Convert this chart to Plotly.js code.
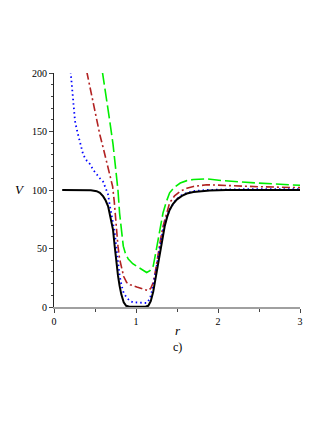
<!DOCTYPE html>
<html>
<head>
<meta charset="utf-8">
<script src="https://cdn.plot.ly/plotly-3.0.1.min.js"></script>
<style>
html,body{margin:0;padding:0;background:#fff;}
#chart{width:327px;height:423px;}
</style>
</head>
<body>
<div id="chart"></div>
<script>
// Black solid curve
const rBlack = [0.1, 0.3, 0.45, 0.52, 0.56, 0.60, 0.63, 0.66, 0.69, 0.72, 0.74, 0.76, 0.78, 0.80, 0.82, 0.85, 0.88, 0.92, 1.0, 1.08, 1.12, 1.15, 1.18, 1.21, 1.23, 1.26, 1.29, 1.32, 1.35, 1.38, 1.41, 1.45, 1.50, 1.56, 1.62, 1.70, 1.78, 1.9, 2.1, 2.5, 3.0];
const vBlack = [100, 100, 99.8, 99, 97.6, 94.5, 91, 86, 77, 66, 52, 38, 27, 18, 11, 4, 1, 0.2, 0, 0.2, 0.5, 1, 5, 13, 21, 33, 46.5, 58, 69, 77, 83, 88, 92, 95, 97, 98.3, 99, 99.6, 100, 100, 100];

// Blue dotted curve
const rBlue = [0.203, 0.22, 0.236, 0.256, 0.28, 0.30, 0.33, 0.357, 0.40, 0.44, 0.48, 0.52, 0.56, 0.60, 0.63, 0.66, 0.68, 0.71, 0.74, 0.76, 0.78, 0.80, 0.825, 0.85, 0.886, 0.93, 0.97, 1.05, 1.13, 1.17, 1.21, 1.24, 1.27, 1.30, 1.33, 1.37, 1.41, 1.47, 1.54, 1.62, 1.70, 1.86, 2.2, 2.6, 3.0];
const vBlue = [201, 185, 173, 159, 151, 145, 137, 130, 125, 122, 117, 113, 110, 107, 102, 96, 87, 76, 64, 51, 38, 27, 18, 12, 8, 5, 4, 3.5, 3.4, 7, 18, 30, 44, 55, 66, 76, 83, 90, 95, 97.5, 99, 100, 100.6, 100.7, 100.8];

// Red dash-dot curve
const rRed = [0.40, 0.44, 0.48, 0.52, 0.56, 0.60, 0.64, 0.68, 0.715, 0.735, 0.755, 0.78, 0.80, 0.825, 0.85, 0.886, 0.93, 1.01, 1.08, 1.15, 1.18, 1.21, 1.24, 1.27, 1.30, 1.33, 1.37, 1.41, 1.47, 1.54, 1.62, 1.70, 1.86, 2.0, 2.2, 2.5, 3.0];
const vRed = [201, 187, 173, 159, 147, 136, 124.5, 113, 103, 90, 72, 52, 41, 32, 26, 21, 19, 17, 15.5, 14, 16, 21, 32, 46.5, 58, 69, 80, 89, 95, 99, 101.5, 103, 104.5, 104, 103.3, 102.8, 102];

// Green long-dash curve
const rGreen = [0.59, 0.64, 0.68, 0.72, 0.76, 0.78, 0.80, 0.82, 0.845, 0.87, 0.906, 0.96, 1.03, 1.08, 1.13, 1.17, 1.21, 1.24, 1.27, 1.30, 1.33, 1.37, 1.41, 1.47, 1.54, 1.62, 1.70, 1.86, 2.06, 2.47, 3.0];
const vGreen = [201, 179, 159, 139, 116, 100, 80, 65, 52, 46, 41, 37, 34, 32, 29.5, 31, 35, 46, 58, 70, 80.6, 90, 97.6, 102.5, 106, 108, 109, 109.5, 108, 106, 104];

const xTickVals = [0, 1, 2, 3];
const xTickText = ['0', '1', '2', '3'];
const yTickVals = [0, 50, 100, 150, 200];
const yTickText = ['0', '50', '100', '150', '200'];

const traces = [
  {x: rGreen, y: vGreen, mode: 'lines', line: {color: '#00ee00', width: 1.6, dash: '13px,4px'}, hoverinfo: 'skip'},
  {x: rRed, y: vRed, mode: 'lines', line: {color: '#b22222', width: 1.6, dash: '8px,3px,2px,3px'}, hoverinfo: 'skip'},
  {x: rBlue, y: vBlue, mode: 'lines', line: {color: '#0000ff', width: 1.8, dash: '1.5px,3px'}, hoverinfo: 'skip'},
  {x: rBlack, y: vBlack, mode: 'lines', line: {color: '#000000', width: 2}, hoverinfo: 'skip'}
];

const serif = 'Liberation Serif, Times New Roman, serif';

const layout = {
  width: 327, height: 423,
  margin: {l: 54, r: 27, t: 73, b: 116, pad: 0},
  paper_bgcolor: '#fff', plot_bgcolor: '#fff',
  showlegend: false,
  font: {family: serif, size: 10, color: '#000'},
  xaxis: {
    range: [0, 3], tickvals: xTickVals, ticktext: xTickText,
    showgrid: false, zeroline: false, showline: true,
    linecolor: '#a0a0a0', linewidth: 2, layer: 'below traces',
    ticks: 'outside', ticklen: 4, tickwidth: 1, tickcolor: '#444',
    minor: {dtick: 0.5, tick0: 0, ticks: 'outside', ticklen: 3, tickcolor: '#444', showgrid: false},
    tickfont: {family: serif, size: 10}
  },
  yaxis: {
    range: [0, 200], tickvals: yTickVals, ticktext: yTickText,
    showgrid: false, zeroline: false, showline: true,
    linecolor: '#222', linewidth: 1, layer: 'below traces',
    ticks: 'outside', ticklen: 4, tickwidth: 1, tickcolor: '#444',
    minor: {dtick: 10, tick0: 0, ticks: 'outside', ticklen: 2, tickcolor: '#444', showgrid: false},
    tickfont: {family: serif, size: 10}
  },
  annotations: [
    {text: '<i>V</i>', xref: 'paper', yref: 'paper', x: -0.138, y: 0.501, xanchor: 'center', yanchor: 'middle', showarrow: false, font: {family: serif, size: 13}},
    {text: '<i>r</i>', xref: 'paper', yref: 'paper', x: 0.504, y: -0.1, xanchor: 'center', yanchor: 'middle', showarrow: false, font: {family: serif, size: 13}},
    {text: 'c)', xref: 'paper', yref: 'paper', x: 0.504, y: -0.173, xanchor: 'center', yanchor: 'middle', showarrow: false, font: {family: serif, size: 12}}
  ]
};

Plotly.newPlot('chart', traces, layout, {displayModeBar: false, staticPlot: true});
</script>
</body>
</html>
